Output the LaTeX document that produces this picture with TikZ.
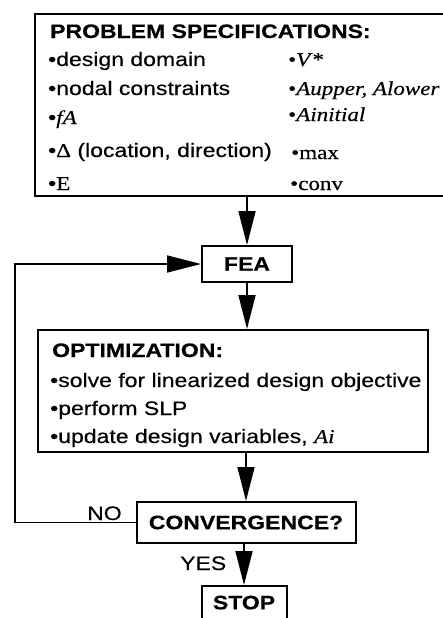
\documentclass[tikz,border=0pt]{standalone}
\usepackage{fontspec}
\setmainfont{Liberation Sans}[FakeStretch=1.18,FakeBold=0.4]
\newfontfamily\tms{Liberation Serif}[FakeStretch=1.18,FakeBold=0.4]
\usetikzlibrary{arrows.meta}
\begin{document}
\begin{tikzpicture}[x=1pt,y=-1pt,
  box/.style={draw,line width=2pt,inner sep=0pt},
  txt/.style={anchor=base west,inner sep=0pt,font=\fontsize{19.5}{24}\selectfont},
  hd/.style={txt,font=\fontsize{19.5}{24}\selectfont\bfseries},
  conn/.style={line width=1.6pt},
  arr/.style={conn,-{Triangle[length=34pt,width=17pt]}}]
\useasboundingbox (0,0) rectangle (443,618);
% boxes
\node[inner sep=0pt,minimum width=435pt,minimum height=182pt] (spec) at (253,105) {};
\draw[line width=2pt] (spec.north east) -- (spec.north west) -- (spec.south west) -- (spec.south east);
\node[box,minimum width=90pt,minimum height=36pt,font=\fontsize{19.5}{24}\selectfont\bfseries] (fea) at (247,264) {FEA};
\node[box,minimum width=390pt,minimum height=122pt] (opt) at (233,391) {};
\node[box,minimum width=219pt,minimum height=41pt,font=\fontsize{19.5}{24}\selectfont\bfseries] (conv) at (246,522.5) {CONVERGENCE?};
\node[box,minimum width=85pt,minimum height=40pt,font=\fontsize{19.5}{24}\selectfont\bfseries,text depth=0pt] (stop) at (244,606) {\raisebox{7pt}{STOP}};
% spec text
\node[hd] (t0) at (50,38) {PROBLEM SPECIFICATIONS:};
\node[txt] (l1) at (48,66) {•design domain};
\node[txt] (l2) at (48,95) {•nodal constraints};
\node[txt] (l3) at (48,124) {•{\tms\itshape fA}};
\node[txt] (l4) at (48,157) {•{\tms Δ} (location, direction)};
\node[txt] (l5) at (48,190) {•{\tms E}};
\node[txt] (r1) at (288,66) {\tms •\textit{V}*};
\node[txt] (r2) at (288,95) {\tms •\textit{Aupper, Alower}};
\node[txt] (r3) at (288,121) {\tms •\textit{Ainitial}};
\node[txt] (r4) at (291,159) {\tms •max};
\node[txt] (r5) at (290,190) {\tms •conv};
% opt text
\node[hd] (o0) at (52,357) {OPTIMIZATION:};
\node[txt] (o1) at (50,387) {•solve for linearized design objective};
\node[txt] (o2) at (50,415) {•perform SLP};
\node[txt] (o3) at (50,443) {•update design variables, {\tms\itshape Ai}};
% connectors
\draw[arr] (spec.south -| fea.north) -- (fea.north);
\draw[arr] (fea.south) -- (fea.south |- opt.north);
\draw[arr] (opt.south -| conv.north) -- (conv.north);
\draw[arr] (conv.south -| stop.north) -- (stop.north);
\coordinate (lp) at (15,0);
\draw[arr] (conv.west) -- (conv.west -| lp) -- (fea.west -| lp) -- (fea.west);
\node[txt] (no) at (87,520) {NO};
\node[txt] (yes) at (180,570) {YES};
\end{tikzpicture}
\end{document}
